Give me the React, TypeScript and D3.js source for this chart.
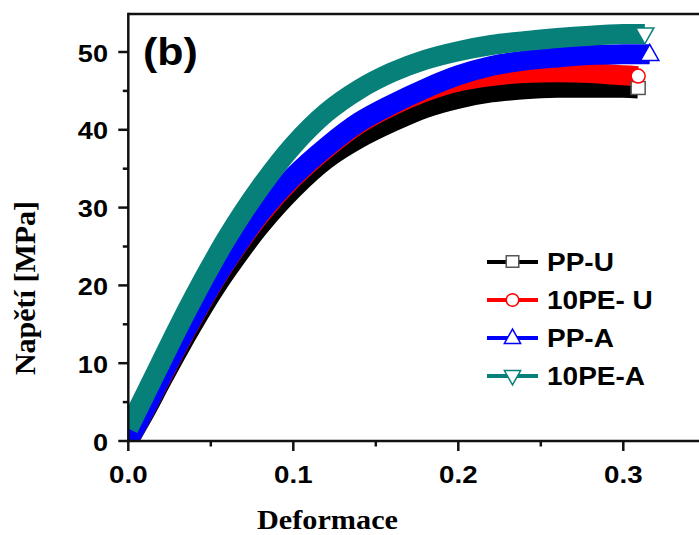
import React from "react";
import * as d3 from "d3";

const strainGrid = [0, 0.01, 0.02, 0.03, 0.04, 0.05, 0.06, 0.08, 0.1, 0.12, 0.14, 0.16, 0.18, 0.2, 0.22, 0.24, 0.26, 0.28, 0.3];

const seriesNames = ["PP-U", "10PE- U", "PP-A", "10PE-A"];
const seriesColors = ["#000000", "#ff0000", "#0000ff", "#08807a"];
const seriesMarkers = ["square", "circle", "triangle", "triangleDown"];
const endStrain = [0.309, 0.309, 0.316, 0.313];

const stressPPU = [0, 3.7, 7.7, 11.6, 15.3, 18.8, 22.0, 27.7, 32.4, 36.2, 38.9, 41.0, 42.8, 44.0, 44.8, 45.2, 45.4, 45.4, 45.4, 45.3];
const stress10PEU = [0, 4.0, 8.1, 12.2, 16.1, 19.8, 23.2, 29.1, 33.8, 37.6, 40.8, 43.1, 44.9, 46.2, 46.9, 47.3, 47.4, 47.3, 47.0, 46.9];
const stressPPA = [0, 4.0, 8.2, 12.3, 16.2, 19.9, 23.3, 29.3, 34.0, 37.8, 41.0, 43.3, 45.3, 47.0, 48.2, 48.9, 49.3, 49.6, 49.7, 49.7];
const stress10PEA = [1.6, 5.9, 10.2, 14.5, 18.6, 22.5, 26.2, 32.6, 38.0, 42.2, 45.2, 47.4, 49.0, 50.1, 50.9, 51.4, 51.8, 52.1, 52.3, 52.3];
const allStress = [stressPPU, stress10PEU, stressPPA, stress10PEA];

const xMajorTicks = [0, 0.1, 0.2, 0.3];
const xMinorTicks = [0.05, 0.15, 0.25];
const yMajorTicks = [0, 10, 20, 30, 40, 50];
const yMinorTicks = [5, 15, 25, 35, 45];

const W = 699;
const H = 535;
const L = 128.3;
const R = 699;
const T = 14;
const B = 441;

const SANS = "'Liberation Sans', Arial, Helvetica, sans-serif";
const SERIF = "'Liberation Serif', 'Times New Roman', Times, serif";

function Marker({ type, x, y, color, s }: { type: string; x: number; y: number; color: string; s: number }) {
  if (type === "square") {
    return <rect x={x - s / 2} y={y - s / 2} width={s} height={s * 0.92} fill="#fff" stroke="#555" strokeWidth={1.5} />;
  }
  if (type === "circle") {
    return <circle cx={x} cy={y} r={s / 2} fill="#fff" stroke={color} strokeWidth={1.5} />;
  }
  const w = s * 1.3;
  const h = s * 1.15;
  if (type === "triangle") {
    const p = `${x},${y - h * 0.62} ${x - w / 2},${y + h * 0.38} ${x + w / 2},${y + h * 0.38}`;
    return <polygon points={p} fill="#fff" stroke={color} strokeWidth={1.5} />;
  }
  const p = `${x},${y + h * 0.62} ${x - w / 2},${y - h * 0.38} ${x + w / 2},${y - h * 0.38}`;
  return <polygon points={p} fill="#fff" stroke={color} strokeWidth={1.5} />;
}

function SText({ x, y, sx, anchor, size, font, children }: any) {
  return (
    <text
      transform={`translate(${x},${y}) scale(${sx},1)`}
      textAnchor={anchor || "start"}
      fontFamily={font || SANS}
      fontWeight="bold"
      fontSize={size}
      fill="#000"
    >
      {children}
    </text>
  );
}

export default function App() {
  const x = d3.scaleLinear().domain([0, (R - L) / 1650]).range([L, R]);
  const y = d3.scaleLinear().domain([0, (B - T) / 7.78]).range([B, T]);

  const line = d3
    .line<[number, number]>()
    .x((d) => x(d[0]))
    .y((d) => y(d[1]))
    .curve(d3.curveCatmullRom.alpha(0.5));

  const series = allStress.map((st, i) => {
    const pts: [number, number][] = strainGrid.map((e, j) => [e, st[j]]);
    pts.push([endStrain[i], st[st.length - 1]]);
    return pts;
  });

  const legendY = [262, 300, 338, 376];

  return (
    <svg width={W} height={H} style={{ position: "absolute", left: 0, top: 0, background: "#fff" }}>
      <defs>
        <clipPath id="plot">
          <rect x={L} y={T} width={R - L} height={B - T} />
        </clipPath>
      </defs>
      <rect x={0} y={0} width={W} height={H} fill="#fff" />

      <g clipPath="url(#plot)">
        {series.map((pts, i) => (
          <path
            key={i}
            d={line(pts) || ""}
            fill="none"
            stroke={seriesColors[i]}
            strokeWidth={20}
            strokeLinecap="butt"
            strokeLinejoin="round"
          />
        ))}
      </g>
      {series.map((pts, i) => {
        const last = pts[pts.length - 1];
        return (
          <Marker key={i} type={seriesMarkers[i]} x={x(last[0])} y={y(last[1])} color={seriesColors[i]} s={14} />
        );
      })}

      {/* axes */}
      <line x1={L} y1={T} x2={R} y2={T} stroke="#111" strokeWidth={2.5} />
      <line x1={L} y1={T - 1.2} x2={L} y2={B + 1.2} stroke="#111" strokeWidth={2.5} />
      <line x1={L - 1.2} y1={B} x2={R} y2={B} stroke="#111" strokeWidth={2.5} />

      {yMajorTicks.map((t) => (
        <g key={"ym" + t}>
          <line x1={L - 10} x2={L} y1={y(t)} y2={y(t)} stroke="#111" strokeWidth={2.5} />
          <SText x={108} y={y(t) + 9.5} sx={1.13} anchor="end" size={24}>
            {t}
          </SText>
        </g>
      ))}
      {yMinorTicks.map((t) => (
        <line key={"yn" + t} x1={L - 5.5} x2={L} y1={y(t)} y2={y(t)} stroke="#111" strokeWidth={2.5} />
      ))}
      {xMajorTicks.map((t) => (
        <g key={"xm" + t}>
          <line x1={x(t)} x2={x(t)} y1={B} y2={B + 10} stroke="#111" strokeWidth={2.5} />
          <SText x={x(t)} y={483} sx={1.13} anchor="middle" size={24.5}>
            {t.toFixed(1)}
          </SText>
        </g>
      ))}
      {xMinorTicks.map((t) => (
        <line key={"xn" + t} x1={x(t)} x2={x(t)} y1={B} y2={B + 5.5} stroke="#111" strokeWidth={2.5} />
      ))}

      <SText x={143} y={65} sx={1.13} size={38}>
        (b)
      </SText>

      {/* legend */}
      {seriesNames.map((n, i) => (
        <g key={"lg" + i}>
          <line x1={487} x2={538} y1={legendY[i]} y2={legendY[i]} stroke={seriesColors[i]} strokeWidth={4} />
          <Marker type={seriesMarkers[i]} x={512.5} y={legendY[i]} color={seriesColors[i]} s={12.5} />
          <SText x={547} y={legendY[i] + 9} sx={1.12} size={25}>
            {n}
          </SText>
        </g>
      ))}

      <SText x={327.5} y={529} sx={1.08} anchor="middle" size={28} font={SERIF}>
        Deformace
      </SText>
      <text
        transform={`translate(35,288) rotate(-90)`}
        textAnchor="middle"
        fontFamily={SERIF}
        fontWeight="bold"
        fontSize={30}
        fill="#000"
      >
        Napětí [MPa]
      </text>
    </svg>
  );
}
